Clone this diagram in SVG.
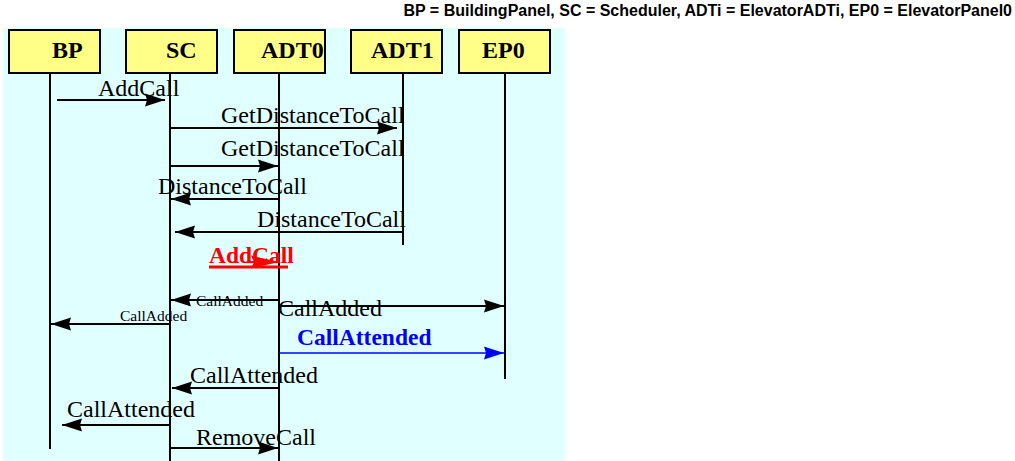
<svg xmlns="http://www.w3.org/2000/svg" width="1015" height="461" viewBox="0 0 1015 461">
<style>
.box{fill:#ffff88;stroke:#000;stroke-width:2}
.name{font-family:"Liberation Serif",serif;font-weight:bold;font-size:24px;fill:#000}
.life{stroke:#000;stroke-width:2;fill:none}
.msg{stroke:#000;stroke-width:2;fill:none;marker-end:url(#ah)}
.lbl{font-family:"Liberation Serif",serif;font-size:24px;fill:#000}
.sm{font-family:"Liberation Serif",serif;font-size:15.5px;fill:#000}
</style>
<defs>
<marker id="ah" markerUnits="userSpaceOnUse" markerWidth="22" markerHeight="14" refX="20" refY="6.5" orient="auto" viewBox="0 0 22 13">
<polygon points="0,0 20,6.5 0,13 2,6.5" fill="#000"/>
</marker>
<marker id="ahb" markerUnits="userSpaceOnUse" markerWidth="22" markerHeight="14" refX="20" refY="6.5" orient="auto" viewBox="0 0 22 13">
<polygon points="0,0 20,6.5 0,13 2,6.5" fill="#0000ff"/>
</marker>
<marker id="ahr" markerUnits="userSpaceOnUse" markerWidth="30" markerHeight="14" refX="28" refY="6.5" orient="auto" viewBox="0 0 30 13">
<polygon points="0,0 28,6.5 0,13 3,6.5" fill="#ff0000"/>
</marker>
</defs>
<text x="1012" y="16" text-anchor="end" font-family="Liberation Sans, Arial, sans-serif" font-weight="bold" font-size="16">BP = BuildingPanel, SC = Scheduler, ADTi = ElevatorADTi, EP0 = ElevatorPanel0</text>
<rect x="3" y="28" width="562" height="433" fill="#e0ffff"/>
<g id="lifelines">
<line class="life" x1="50" y1="73" x2="50" y2="449"/>
<line class="life" x1="170" y1="73" x2="170" y2="461"/>
<line class="life" x1="279" y1="73" x2="279" y2="461"/>
<line class="life" x1="403" y1="73" x2="403" y2="245"/>
<line class="life" x1="505" y1="73" x2="505" y2="379"/>
</g>
<g id="BP"><rect class="box" x="9" y="30" width="91" height="43"/><text class="name" x="52" y="58">BP</text></g>
<g id="SC"><rect class="box" x="126" y="30" width="91" height="43"/><text class="name" x="166" y="58">SC</text></g>
<g id="ADT0"><rect class="box" x="234" y="30" width="91" height="43"/><text class="name" x="261" y="58">ADT0</text></g>
<g id="ADT1"><rect class="box" x="351" y="30" width="91" height="43"/><text class="name" x="371" y="58">ADT1</text></g>
<g id="EP0"><rect class="box" x="459" y="30" width="91" height="43"/><text class="name" x="482" y="58">EP0</text></g>
<g id="connectors">
<text class="lbl" x="98" y="96">AddCall</text>
<line class="msg" x1="57" y1="100" x2="165" y2="100"/>
<text class="lbl" x="221" y="123">GetDistanceToCall</text>
<line class="msg" x1="170" y1="128" x2="397" y2="128"/>
<text class="lbl" x="221" y="156">GetDistanceToCall</text>
<line class="msg" x1="170" y1="166" x2="278" y2="166"/>
<text class="lbl" x="158" y="194">DistanceToCall</text>
<line class="msg" x1="280" y1="199" x2="171" y2="199"/>
<text class="lbl" x="257" y="227">DistanceToCall</text>
<line class="msg" x1="403" y1="232" x2="175" y2="232"/>
<text x="209" y="263" font-family="Liberation Serif, serif" font-weight="bold" font-size="23.5" fill="#ff0000">AddCall</text>
<line x1="209" y1="267" x2="288" y2="267" stroke="#ff0000" stroke-width="3"/>
<line x1="250" y1="262" x2="279" y2="262" stroke="#ff0000" stroke-width="2" marker-end="url(#ahr)"/>
<line class="msg" x1="279" y1="300" x2="171" y2="300"/>
<text class="sm" x="196" y="306">CallAdded</text>
<line class="msg" x1="279" y1="306" x2="504" y2="306"/>
<text class="lbl" x="278" y="316">CallAdded</text>
<text class="sm" x="120" y="321">CallAdded</text>
<line class="msg" x1="171" y1="324" x2="51" y2="324"/>
<text x="297" y="345" font-family="Liberation Serif, serif" font-weight="bold" font-size="23.5" fill="#0000ff">CallAttended</text>
<line x1="279" y1="353" x2="504" y2="353" stroke="#0000ff" stroke-width="1.6" marker-end="url(#ahb)"/>
<text class="lbl" x="190" y="383">CallAttended</text>
<line class="msg" x1="280" y1="388" x2="172" y2="388"/>
<text class="lbl" x="67" y="417">CallAttended</text>
<line class="msg" x1="171" y1="425" x2="62" y2="425"/>
<text class="lbl" x="196" y="445">RemoveCall</text>
<line class="msg" x1="171" y1="448" x2="278" y2="448"/>
</g>
</svg>
